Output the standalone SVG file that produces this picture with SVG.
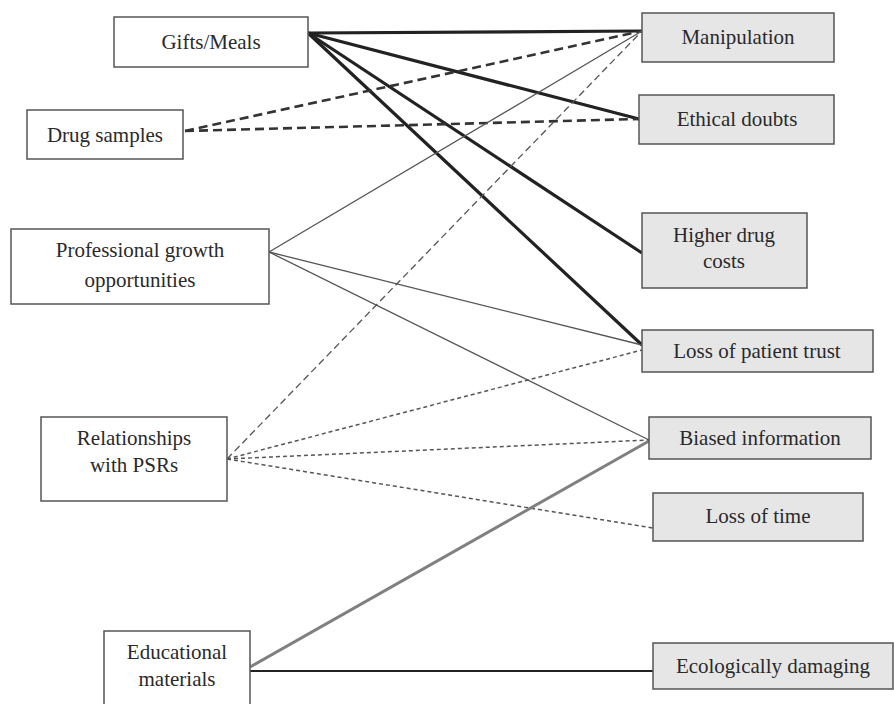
<svg xmlns="http://www.w3.org/2000/svg" width="894" height="704" viewBox="0 0 894 704">
<style>
.src rect{fill:#fff;stroke:#555;stroke-width:1.5}
.tgt rect{fill:#e6e6e6;stroke:#555;stroke-width:1.5}
text{font-family:"Liberation Serif","DejaVu Serif",serif;font-size:21px;fill:#2a2a2a;text-anchor:middle}
.thick{stroke:#222;stroke-width:3.2;fill:none}
.thickdash{stroke:#333;stroke-width:2.6;stroke-dasharray:9 5;fill:none}
.thin{stroke:#555;stroke-width:1.3;fill:none}
.longdash{stroke:#555;stroke-width:1.3;stroke-dasharray:7 4;fill:none}
.finedash{stroke:#555;stroke-width:1.5;stroke-dasharray:4 3;fill:none}
.gray{stroke:#808080;stroke-width:3;fill:none}
.med{stroke:#222;stroke-width:2;fill:none}
</style>
<rect width="894" height="704" fill="#fff"/>
<g id="connectors">
<line class="thick" x1="308" y1="33" x2="642" y2="31"/>
<line class="thick" x1="308" y1="33" x2="639" y2="119"/>
<line class="thick" x1="308" y1="33" x2="642" y2="253"/>
<line class="thick" x1="308" y1="33" x2="642" y2="345"/>
<line class="thickdash" x1="185" y1="131" x2="642" y2="31"/>
<line class="thickdash" x1="185" y1="131" x2="639" y2="119"/>
<line class="thin" x1="269" y1="252" x2="642" y2="31"/>
<line class="thin" x1="269" y1="252" x2="642" y2="345"/>
<line class="thin" x1="269" y1="252" x2="649" y2="440"/>
<line class="longdash" x1="227" y1="459" x2="642" y2="31"/>
<line class="finedash" x1="227" y1="459" x2="642" y2="350"/>
<line class="finedash" x1="227" y1="459" x2="649" y2="440"/>
<line class="finedash" x1="227" y1="459" x2="653" y2="528"/>
<line class="gray" x1="250" y1="667" x2="649" y2="441"/>
<line class="med" x1="250" y1="671" x2="653" y2="671"/>
</g>
<g id="gifts" class="src"><rect x="114" y="17" width="194" height="50"/><text x="211" y="49">Gifts/Meals</text></g>
<g id="samples" class="src"><rect x="27" y="110" width="156" height="49"/><text x="105" y="142">Drug samples</text></g>
<g id="growth" class="src"><rect x="11" y="229" width="258" height="75"/><text x="140" y="257">Professional growth</text><text x="140" y="287">opportunities</text></g>
<g id="psrs" class="src"><rect x="41" y="417" width="186" height="84"/><text x="134" y="445">Relationships</text><text x="134" y="472">with PSRs</text></g>
<g id="edu" class="src"><rect x="104" y="631" width="146" height="74"/><text x="177" y="659">Educational</text><text x="177" y="686">materials</text></g>
<g id="manip" class="tgt"><rect x="642" y="13" width="192" height="49"/><text x="738" y="44">Manipulation</text></g>
<g id="ethical" class="tgt"><rect x="639" y="95" width="195" height="49"/><text x="737" y="126">Ethical doubts</text></g>
<g id="costs" class="tgt"><rect x="642" y="213" width="165" height="75"/><text x="724" y="242">Higher drug</text><text x="724" y="268">costs</text></g>
<g id="trust" class="tgt"><rect x="642" y="330" width="231" height="42"/><text x="757" y="358">Loss of patient trust</text></g>
<g id="biased" class="tgt"><rect x="649" y="417" width="222" height="42"/><text x="760" y="445">Biased information</text></g>
<g id="time" class="tgt"><rect x="653" y="493" width="210" height="48"/><text x="758" y="523">Loss of time</text></g>
<g id="eco" class="tgt"><rect x="653" y="643" width="240" height="46"/><text x="773" y="673">Ecologically damaging</text></g>
</svg>
